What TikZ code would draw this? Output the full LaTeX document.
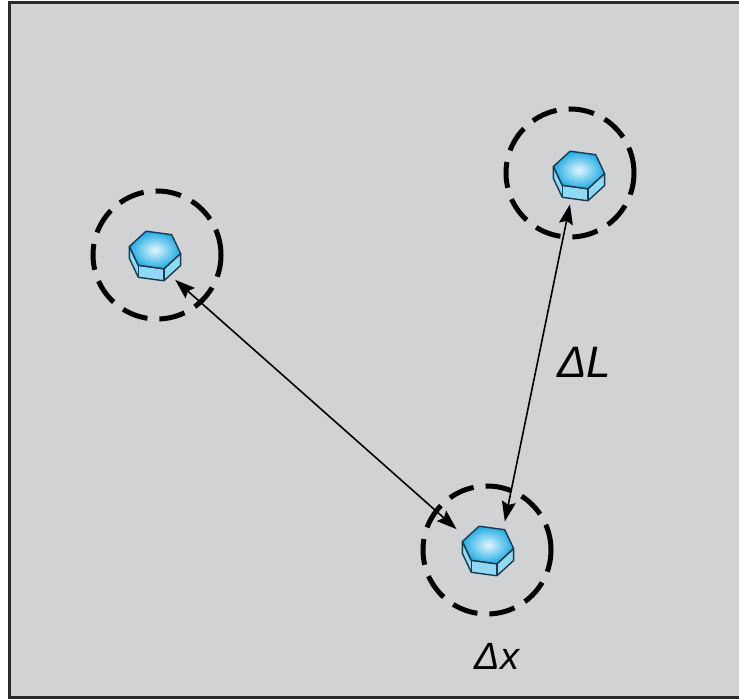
\documentclass[tikz,border=0pt]{standalone}
\usepackage{fontspec}
\setmainfont{Liberation Sans}
\usetikzlibrary{arrows.meta}

\begin{document}
\begin{tikzpicture}[x=0.5pt,y=-0.5pt,
    ring/.style={circle,draw,line width=2.5pt,dash pattern=on 13pt off 6pt,
                 minimum size=64pt,inner sep=0pt},
    link/.style={line width=0.8pt,{Stealth[length=10pt,width=7pt,inset=1.5pt]}-{Stealth[length=10pt,width=7pt,inset=1.5pt]}},
    lbl/.style={font=\itshape\fontsize{22}{26}\selectfont}]

        % 定义颜色
        \definecolor{panel}{RGB}{209, 210, 212}
        \definecolor{frame}{RGB}{42, 42, 42}
        \definecolor{hextop}{RGB}{30, 170, 228}
        \definecolor{hexmid}{RGB}{225, 246, 253}
        \definecolor{hexside}{RGB}{143, 217, 245}
        \definecolor{hexline}{RGB}{28, 58, 80}

        % 画布与边框（右侧无边线）
        \useasboundingbox (0,0) rectangle (739,699);
        \fill[white] (0,0) rectangle (760,720);
        \fill[panel] (9,3) rectangle (760,697);
        \draw[frame,line width=1.5pt] (760,3) -- (9,3) -- (9,697) -- (760,697);

        % 三个六棱柱
        \foreach \n/\x/\y in {hubA/155/250, hubB/579/170, hubC/488/545} {
            \coordinate (\n) at (\x,\y);
            \begin{scope}[shift={(\x,\y)}]
                \filldraw[fill=hexside,draw=hexline,line width=0.7pt,line join=round]
                    (25.6,3.5) -- (8.9,18.8) -- (-16.7,15.3) -- (-25.6,-3.5)
                    -- (-25.6,8.5) -- (-16.7,27.3) -- (8.9,30.8) -- (25.6,15.5) -- cycle;
                \draw[hexline,line width=0.7pt] (8.9,18.8) -- (8.9,30.8);
                \draw[hexline,line width=0.7pt] (-16.7,15.3) -- (-16.7,27.3);
                \shade[inner color=hexmid,outer color=hextop]
                    (25.6,3.5) -- (8.9,18.8) -- (-16.7,15.3) -- (-25.6,-3.5)
                    -- (-8.9,-18.8) -- (16.7,-15.3) -- cycle;
                \draw[hexline,line width=0.7pt,line join=round]
                    (25.6,3.5) -- (8.9,18.8) -- (-16.7,15.3) -- (-25.6,-3.5)
                    -- (-8.9,-18.8) -- (16.7,-15.3) -- cycle;
            \end{scope}
        }

        % 虚线圆
        \node[ring] (ringA) at (157,255) {};
        \node[ring] (ringB) at (570,173) {};
        \node[ring] (ringC) at (487,550) {};

        % 双向箭头
        \draw[link,shorten <=13.5pt,shorten >=21pt]
            ([shift={(0,12)}]hubA) -- ([shift={(0,12)}]hubC);
        \draw[link,shorten <=17.5pt,shorten >=12pt]
            ([shift={(-2,0)}]hubB) -- ([shift={(12,0)}]hubC);

        % 标签
        \node[lbl] (dL) at (584,362) {ΔL};
        \node[lbl,font=\itshape\fontsize{19}{22}\selectfont] (dx) at (497,656) {Δx};

    \end{tikzpicture}
\end{document}
